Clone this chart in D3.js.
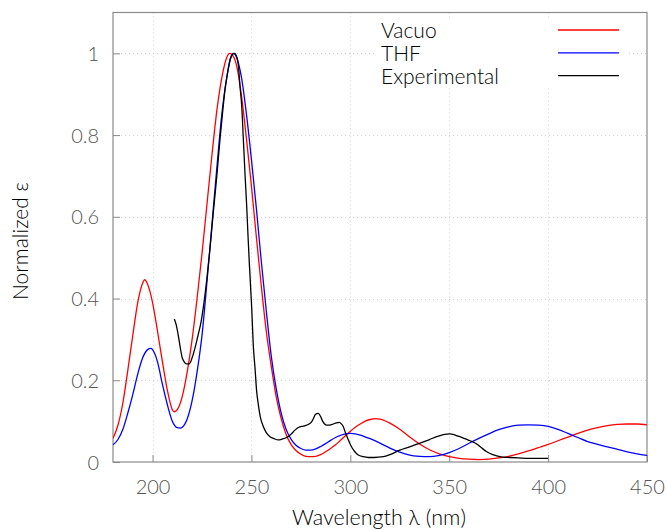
<!DOCTYPE html>
<html>
<head>
<meta charset="utf-8">
<script src="https://cdn.jsdelivr.net/npm/d3@7"></script>
<style>
  html, body { margin: 0; padding: 0; background: #fff; }
  svg { display: block; }
  text { font-family: Lato, "Open Sans", sans-serif; font-weight: 300; }
</style>
</head>
<body>
<div id="chart"></div>
<script>
// ---- data ----
const seriesNames = ["Vacuo", "THF", "Experimental"];
const seriesColors = ["#ff0000", "#0000ff", "#000000"];

const vacuoNm = [180,182.5,185,187.5,190,192.5,195,196,197.5,200,202.5,205,207.5,210,211,212.5,215,217.5,220,222.5,225,227.5,230,232.5,235,237.5,239,240,242.5,245,247.5,250,252.5,255,257.5,260,262.5,265,267.5,270,272.5,275,277.5,280,282.5,285,287.5,290,292.5,295,297.5,300,302.5,305,307.5,310,312.5,315,317.5,320,325,330,335,340,345,350,355,360,365,370,375,380,385,390,395,400,405,410,415,420,425,430,435,440,445,450];
const vacuoEps = [0.058,0.09,0.145,0.225,0.31,0.39,0.438,0.446,0.435,0.39,0.32,0.245,0.175,0.128,0.123,0.128,0.16,0.22,0.3,0.4,0.51,0.63,0.75,0.86,0.94,0.99,1.0,0.998,0.97,0.895,0.79,0.675,0.55,0.43,0.32,0.235,0.16,0.107,0.068,0.043,0.028,0.019,0.014,0.013,0.014,0.018,0.025,0.033,0.042,0.053,0.064,0.075,0.085,0.093,0.1,0.104,0.106,0.105,0.101,0.095,0.08,0.061,0.044,0.03,0.02,0.013,0.009,0.007,0.006,0.007,0.01,0.014,0.02,0.027,0.035,0.043,0.052,0.061,0.07,0.078,0.084,0.089,0.092,0.093,0.093,0.091];

const thfNm = [180,182.5,185,187.5,190,192.5,195,197.5,199,200,202.5,205,207.5,210,212.5,214,215,217.5,220,222.5,225,227.5,230,232.5,235,237.5,240,241,242.5,245,247.5,250,252.5,255,257.5,260,262.5,265,267.5,270,272.5,275,277.5,280,282.5,285,287.5,290,292.5,295,297.5,300,302.5,305,310,315,320,325,330,335,340,345,350,355,360,365,370,375,380,385,390,395,400,405,410,415,420,425,430,435,440,445,450];
const thfEps = [0.042,0.055,0.08,0.12,0.165,0.215,0.255,0.275,0.278,0.275,0.245,0.19,0.14,0.1,0.084,0.083,0.085,0.105,0.15,0.22,0.31,0.44,0.58,0.72,0.85,0.94,0.995,1.0,0.99,0.94,0.85,0.74,0.62,0.49,0.37,0.26,0.18,0.12,0.08,0.056,0.041,0.033,0.029,0.029,0.032,0.038,0.045,0.053,0.06,0.065,0.069,0.07,0.069,0.066,0.057,0.046,0.034,0.024,0.017,0.014,0.013,0.016,0.023,0.033,0.046,0.058,0.069,0.079,0.086,0.09,0.091,0.09,0.087,0.08,0.07,0.06,0.05,0.043,0.037,0.031,0.025,0.02,0.016];

const expNm = [211,212,213,214,215,216,217,218.5,220,221.5,223,224.6,226,227.4,229,230.7,232.5,234.1,235.5,236.6,238,239.2,240.5,241.4,242.3,243.4,244.2,245.1,245.9,246.8,247.6,248.3,249,250.1,251,251.8,252.6,253.5,254.5,256,257.5,259.4,261.5,263.6,265.5,267.8,270,272,274,275.4,277.9,279.5,280.5,281.5,282.3,283.8,285,286,287,288,289.5,291.4,293,294.4,295.5,296.4,297.5,299,300.5,302.3,304,306.5,309,312,316.7,320,325,330,335.2,340,343.7,347,350.4,353,355.4,358,360.5,363.9,366,369,372,374,377,380.7,385,390.8,395,400];
const expEps = [0.35,0.335,0.31,0.28,0.255,0.245,0.24,0.24,0.255,0.28,0.31,0.345,0.39,0.446,0.52,0.61,0.7,0.79,0.86,0.91,0.955,0.985,0.998,1.0,0.995,0.97,0.92,0.87,0.79,0.7,0.626,0.55,0.48,0.38,0.28,0.23,0.175,0.14,0.11,0.087,0.072,0.062,0.057,0.054,0.056,0.06,0.068,0.078,0.085,0.087,0.09,0.094,0.099,0.108,0.116,0.119,0.111,0.1,0.093,0.09,0.09,0.093,0.096,0.097,0.093,0.087,0.072,0.054,0.038,0.025,0.017,0.013,0.011,0.011,0.013,0.018,0.029,0.037,0.046,0.055,0.062,0.067,0.069,0.066,0.062,0.057,0.052,0.044,0.036,0.025,0.018,0.015,0.012,0.011,0.01,0.009,0.009,0.009];

const xTicks = [200,250,300,350,400,450];
const yTicks = [0,0.2,0.4,0.6,0.8,1];
const xLabel = "Wavelength \u03bb (nm)";
const yLabel = "Normalized \u03b5";

// ---- layout ----
const W = 667, H = 530;
const plot = { left: 113, right: 647, top: 12.5, bottom: 462 };

const svg = d3.select("#chart").append("svg").attr("width", W).attr("height", H);

const x = d3.scaleLinear().domain([180, 450]).range([plot.left, plot.right]);
const y = d3.scaleLinear().domain([0, 1.1]).range([plot.bottom, plot.top]);

// grid
const grid = svg.append("g").attr("stroke", "#cfcfcf").attr("stroke-width", 1).attr("stroke-dasharray", "1,3");
grid.selectAll("line.gx").data(xTicks.filter(d => d > 180 && d < 450)).join("line")
  .attr("x1", d => Math.round(x(d)) + 0.5).attr("x2", d => Math.round(x(d)) + 0.5)
  .attr("y1", plot.top).attr("y2", plot.bottom);
grid.selectAll("line.gy").data(yTicks.filter(d => d > 0)).join("line")
  .attr("y1", d => Math.round(y(d)) + 0.5).attr("y2", d => Math.round(y(d)) + 0.5)
  .attr("x1", plot.left).attr("x2", plot.right);

// axes
const axisColor = "#8a8a8a";
const xAxis = svg.append("g").attr("transform", `translate(0,${plot.bottom})`)
  .call(d3.axisBottom(x).tickValues(xTicks).tickSize(-7).tickPadding(18).tickFormat(d3.format("d")));
const yAxis = svg.append("g").attr("transform", `translate(${plot.left},0)`)
  .call(d3.axisLeft(y).tickValues(yTicks).tickSize(-7).tickPadding(14).tickFormat(d => d === 0 ? "0" : d === 1 ? "1" : d3.format(".1f")(d)));
[xAxis, yAxis].forEach(a => {
  a.select(".domain").remove();
  a.selectAll(".tick line").attr("stroke", axisColor);
  a.selectAll(".tick text").attr("fill", "#555").style("font-size", "20px")
    .style("font-family", "Lato, sans-serif").style("font-weight", "300");
});
yAxis.selectAll(".tick text").attr("dy", "0.35em");

// frame
svg.append("rect").attr("x", plot.left).attr("y", plot.top)
  .attr("width", plot.right - plot.left).attr("height", plot.bottom - plot.top)
  .attr("fill", "none").attr("stroke", axisColor).attr("stroke-width", 1.2);

// legend background (hides grid)
svg.append("rect").attr("x", 376).attr("y", 18).attr("width", 252).attr("height", 70).attr("fill", "#fff");

// lines
const line = d3.line().x(d => x(d[0])).y(d => y(d[1])).curve(d3.curveMonotoneX);
const series = [
  d3.zip(vacuoNm, vacuoEps),
  d3.zip(thfNm, thfEps),
  d3.zip(expNm, expEps)
];
const clip = svg.append("clipPath").attr("id", "clip").append("rect")
  .attr("x", plot.left).attr("y", plot.top).attr("width", plot.right - plot.left).attr("height", plot.bottom - plot.top);
svg.append("g").attr("clip-path", "url(#clip)").selectAll("path").data(series).join("path")
  .attr("d", line).attr("fill", "none")
  .attr("stroke", (d, i) => seriesColors[i]).attr("stroke-width", 1.3);

// legend
const lg = svg.append("g");
seriesNames.forEach((name, i) => {
  const yy = 30 + i * 22.8;
  lg.append("text").attr("x", 381).attr("y", yy + 8).text(name)
    .style("font-size", "21px").attr("fill", "#000");
  lg.append("line").attr("x1", 558).attr("x2", 619).attr("y1", yy).attr("y2", yy)
    .attr("stroke", seriesColors[i]).attr("stroke-width", 1.3);
});

// axis titles
svg.append("text").attr("x", 379).attr("y", 525).attr("text-anchor", "middle")
  .style("font-size", "21.5px").attr("fill", "#000").text(xLabel);
svg.append("text").attr("transform", "translate(28,241) rotate(-90)").attr("text-anchor", "middle")
  .style("font-size", "21px").attr("fill", "#000").text(yLabel);
</script>
</body>
</html>
